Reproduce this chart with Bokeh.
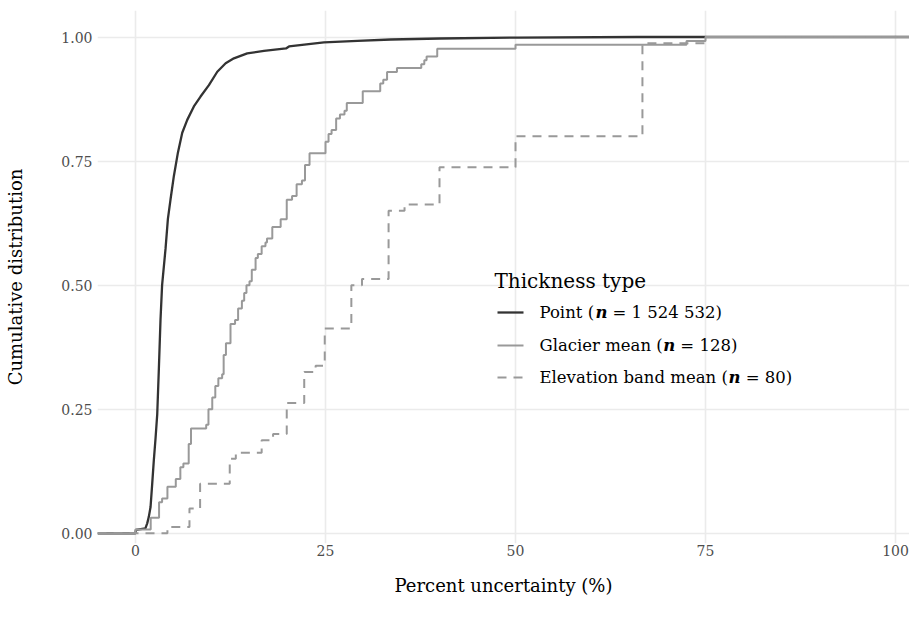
from bokeh.plotting import figure
from bokeh.models import Range1d, Label, FixedTicker, NumeralTickFormatter
from bokeh.embed import file_html
from bokeh.resources import INLINE

# ---------------- data ----------------
point_x = [0, 0.05, 1.3, 1.54, 1.75, 1.98, 2.2, 2.41, 2.63, 2.86, 3.07, 3.29, 3.5, 3.95,
           4.26, 4.61, 5.05, 5.58, 6.15, 6.81, 7.68, 8.56, 9.66, 10.76, 11.86, 12.95,
           14.7, 16.9, 19.8, 20.2, 24.8, 29.2, 33.6, 40.0, 50.3, 66.0]
point_F = [0, 0.007, 0.01, 0.02, 0.033, 0.053, 0.10, 0.147, 0.19, 0.24, 0.33, 0.43, 0.50, 0.573,
           0.633, 0.673, 0.72, 0.767, 0.807, 0.833, 0.86, 0.88, 0.903, 0.93, 0.947, 0.957,
           0.967, 0.972, 0.977, 0.981, 0.989, 0.992, 0.995, 0.997, 0.9988, 1.0]

# Glacier mean: uncertainty values and cumulative number of glaciers (n = 128)
glacier_x = [0.0, 2.0, 3.1, 3.5, 4.2, 5.3, 5.9, 6.3, 7.0, 7.3, 9.3, 9.6, 10.1, 10.5, 10.9,
             11.4, 11.6, 11.9, 12.5, 13.1, 13.5, 14.0, 14.3, 14.6, 15.0, 15.3, 15.8, 16.1,
             16.6, 17.1, 17.3, 18.0, 19.1, 19.9, 20.6, 21.2, 21.9, 22.3, 22.9, 25.0, 25.4,
             25.8, 26.4, 26.9, 27.5, 27.8, 29.9, 32.2, 32.6, 33.1, 34.4, 37.6, 38.0, 38.3,
             39.7, 50.0, 72.5, 75.0]
glacier_cum = [1, 4, 8, 9, 12, 14, 17, 18, 23, 27, 28, 32, 35, 38, 40, 41, 46, 49, 54, 55,
               58, 60, 62, 64, 65, 68, 71, 72, 74, 75, 76, 79, 81, 86, 87, 90, 91, 95, 98,
               101, 103, 104, 107, 108, 109, 111, 114, 116, 117, 119, 120, 121, 122, 123,
               125, 126, 127, 128]
n_glacier = 128

# Elevation band mean: uncertainty values and cumulative number of bands (n = 80)
elev_x = [4.2, 7.1, 8.5, 12.4, 13.2, 16.6, 18.1, 19.9, 22.2, 23.7, 24.9, 28.4, 29.8, 33.3,
          35.4, 40.0, 50.0, 66.7, 75.0]
elev_cum = [1, 4, 8, 12, 13, 15, 16, 21, 26, 27, 33, 40, 41, 52, 53, 59, 64, 79, 80]
n_elev = 80

x_ticks = [0, 25, 50, 75, 100]
y_ticks = [0.0, 0.25, 0.5, 0.75, 1.0]

legend_title = "Thickness type"
legend_names = ["Point (", "Glacier mean (", "Elevation band mean ("]
legend_counts = ["= 1 524 532)", "= 128)", "= 80)"]

# ---------------- layout ----------------
W, H = 909, 626
FL, FR, FT, FB = 97, 0, 10, 83          # borders around the frame
x0, x1 = -5.0, 101.84
y0, y1 = -0.0206, 1.0534
FW, FH = W - FL - FR, H - FT - FB
SERIF = "DejaVu Serif"
DARK = "#333333"
GREY = "#999999"

p = figure(width=W, height=H, output_backend="svg", toolbar_location=None,
           x_range=Range1d(x0, x1), y_range=Range1d(y0, y1),
           min_border_left=FL, min_border_right=FR, min_border_top=FT,
           min_border_bottom=FB)
p.outline_line_color = None
p.background_fill_color = "white"
p.border_fill_color = "white"

for ax in (p.xaxis[0], p.yaxis[0]):
    ax.axis_line_color = None
    ax.major_tick_line_color = None
    ax.minor_tick_line_color = None
    ax.major_tick_out = 0
    ax.major_tick_in = 0
    ax.major_label_text_font = SERIF
    ax.major_label_text_font_size = "14px"
    ax.major_label_text_color = "#4D4D4D"
    ax.axis_label_text_font = SERIF
    ax.axis_label_text_font_size = "18px"
    ax.axis_label_text_font_style = "normal"
    ax.axis_label_text_color = "black"

p.xaxis.ticker = FixedTicker(ticks=x_ticks)
p.yaxis.ticker = FixedTicker(ticks=y_ticks)
p.yaxis.formatter = NumeralTickFormatter(format="0.00")
p.xaxis.axis_label = "Percent uncertainty (%)"
p.yaxis.axis_label = "Cumulative distribution"
p.xaxis.major_label_standoff = 1
p.xaxis.axis_label_standoff = 16
p.yaxis.major_label_standoff = 5
p.yaxis.axis_label_standoff = 32

p.xgrid.ticker = FixedTicker(ticks=x_ticks)
p.ygrid.ticker = FixedTicker(ticks=y_ticks)
for g in (p.xgrid[0], p.ygrid[0]):
    g.grid_line_color = "#EBEBEB"
    g.grid_line_width = 1.6
    g.minor_grid_line_color = None

# ---------------- ECDF lines (padded to -Inf / +Inf like stat_ecdf) ----------------
px_ = [x0] + point_x + [x1]
py_ = [0.0] + point_F + [1.0]
p.line(px_, py_, line_color=DARK, line_width=2.3)

gx = [x0] + glacier_x + [x1]
gy = [0.0] + [c / n_glacier for c in glacier_cum] + [1.0]
p.step(gx, gy, mode="after", line_color=GREY, line_width=2.0)

ex = [x0] + elev_x + [x1]
ey = [0.0] + [c / n_elev for c in elev_cum] + [1.0]
p.step(ex, ey, mode="after", line_color=GREY, line_width=2.0, line_dash="9 7")

# ---------------- manual legend ----------------
def dx(fx):
    return x0 + (fx - FL) * (x1 - x0) / FW

def dy(fy):
    return y1 - (fy - FT) * (y1 - y0) / FH

W_SERIF = {" ": .318, "(": .390, ")": .390, "=": .838, "P": .656, "o": .602, "i": .320,
           "n": .641, "t": .402, "G": .775, "l": .320, "a": .596, "c": .561, "e": .592,
           "r": .478, "m": .948, "E": .725, "v": .565, "b": .640, "d": .640}
for ch in "0123456789":
    W_SERIF[ch] = .636

def text_w(s, size):
    return sum(W_SERIF.get(c, .6) for c in s) * size

p.add_layout(Label(x=dx(494), y=dy(280), text=legend_title,
                   text_font=SERIF, text_font_size="20px", text_color="black",
                   text_baseline="alphabetic"))

key_y = [312, 345, 377]
styles = [(DARK, 2.3, "solid"), (GREY, 2.0, "solid"), (GREY, 2.0, "9 7")]
LS = 16.5
for name, cnt, ky, (col, lw, dash) in zip(legend_names, legend_counts, key_y, styles):
    p.line([dx(497), dx(523)], [dy(ky), dy(ky)], line_color=col,
           line_width=lw, line_dash=dash)
    tx = 539
    p.add_layout(Label(x=dx(tx), y=dy(ky), text=name, text_font=SERIF,
                       text_font_size=f"{LS}px", text_baseline="middle", text_color="black"))
    tx2 = tx + text_w(name, LS) + 1
    p.add_layout(Label(x=dx(tx2), y=dy(ky), text="n", text_font=SERIF,
                       text_font_size=f"{LS}px", text_font_style="bold italic",
                       text_baseline="middle", text_color="black"))
    tx3 = tx2 + 0.713 * LS + 0.318 * LS
    p.add_layout(Label(x=dx(tx3), y=dy(ky), text=cnt, text_font=SERIF,
                       text_font_size=f"{LS}px", text_baseline="middle", text_color="black"))

open("out.html", "w").write(file_html(p, INLINE))
